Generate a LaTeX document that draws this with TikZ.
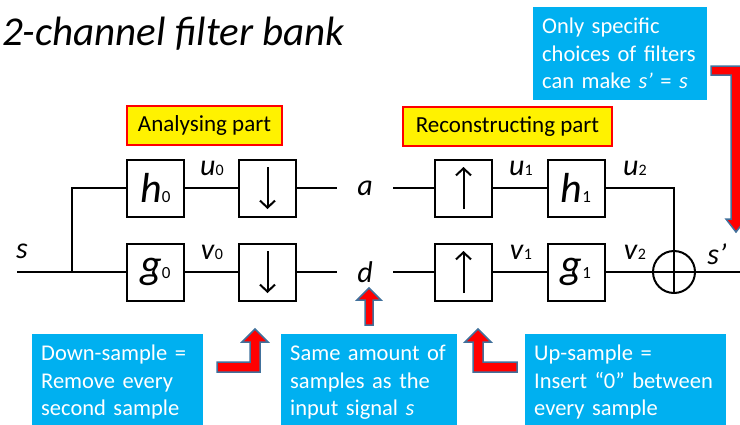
\documentclass[tikz,border=0pt]{standalone}
\usepackage{fontspec}
\setmainfont{Carlito}
\usetikzlibrary{arrows.meta}
\definecolor{note_blue}{HTML}{00B0F0}
\definecolor{arrow_edge}{HTML}{41719C}
\newcommand{\sig}[3][16]{\textit{#2}{\fontsize{#1}{#1}\selectfont #3}}

\begin{document}
\begin{tikzpicture}[x=1pt, y=-1pt]
        \tikzstyle{fb_block}  = [shape = rectangle, draw = black, line width = 2pt, minimum size = 57pt, inner sep = 0pt, font = \fontsize{42}{42}\selectfont]
        \tikzstyle{fb_down}   = [fb_block, path picture = {\draw[line width = 2pt, -{Straight Barb[length = 7pt, width = 15pt, line width = 2pt]}]
                                   ([yshift = 21pt] path picture bounding box.center) -- ([yshift = -21pt] path picture bounding box.center);}]
        \tikzstyle{fb_up}     = [fb_block, path picture = {\draw[line width = 2pt, -{Straight Barb[length = 7pt, width = 15pt, line width = 2pt]}]
                                   ([yshift = -21pt] path picture bounding box.center) -- ([yshift = 21pt] path picture bounding box.center);}]
        \tikzstyle{fb_sum}    = [shape = circle, draw = black, line width = 2pt, minimum size = 42pt, inner sep = 0pt,
                                 path picture = {\draw[line width = 2pt]
                                   (path picture bounding box.north) -- (path picture bounding box.south)
                                   (path picture bounding box.west) -- (path picture bounding box.east);}]
        \tikzstyle{fb_signal} = [inner sep = 0pt, font = \fontsize{30}{30}\selectfont]
        \tikzstyle{fb_point}  = [fb_signal, minimum width = 56pt]
        \tikzstyle{fb_part}   = [shape = rectangle, draw = red, fill = yellow, line width = 2pt, minimum height = 39pt, inner sep = 0pt, font = \fontsize{23}{23}\selectfont]
        \tikzstyle{fb_note}   = [fill = note_blue, text = white, anchor = north west, align = left, inner xsep = 9pt, inner ysep = 11pt, font = \fontsize{22.5}{27.5}\selectfont]
        \tikzstyle{fb_arrow}  = [fill = red, draw = arrow_edge, line width = 1.5pt]
        \tikzstyle{fb_line}   = [line width = 2pt]

        \useasboundingbox (0,0) rectangle (740,424);
        \clip (0,0) rectangle (740,424);

        \node[anchor = base west, inner sep = 0pt, font = \fontsize{41}{41}\selectfont\itshape] at (2,45) (title) {2-channel filter bank};

        \node[fb_part, minimum width = 155pt] at (204.5,125.5) (analysing) {Analysing part};
        \node[fb_part, minimum width = 209pt] at (507.5,126.5) (reconstructing) {Reconstructing part};

        \coordinate (s_in)  at (17,272);
        \coordinate (split) at (72,272);
        \coordinate (s_out) at (745,272);

        \node[fb_block] at (155.5,188) (h0) {\sig[17]{h}{0}};
        \node[fb_block] at (155.5,272) (g0) {\sig[17]{g}{0}};
        \node[fb_down] at (267.5,188) (down_u) {};
        \node[fb_down] at (267.5,272) (down_v) {};

        \node[fb_point] at (365,188) (a) {\textit{a}};
        \node[fb_point] at (365,272) (d) {\textit{d}};

        \node[fb_up] at (463.5,188) (up_a) {};
        \node[fb_up] at (463.5,272) (up_d) {};
        \node[fb_block] at (576,188) (h1) {\sig[17]{h}{1}};
        \node[fb_block] at (576,272) (g1) {\sig[17]{g}{1}};

        \node[fb_sum] at (674,272) (sum) {};

        \node[fb_signal] at (22,251) (s_label) {\textit{s}};
        \node[fb_signal] at (212,168) (u0) {\sig{u}{0}};
        \node[fb_signal] at (212,252) (v0) {\sig{v}{0}};
        \node[fb_signal] at (521,168) (u1) {\sig{u}{1}};
        \node[fb_signal] at (521,252) (v1) {\sig{v}{1}};
        \node[fb_signal] at (635,168) (u2) {\sig{u}{2}};
        \node[fb_signal] at (635,252) (v2) {\sig{v}{2}};
        \node[fb_signal] at (717,254) (s_prime) {\textit{s’}};

        \draw[fb_line]
          (s_in) -- (g0)
          (split) |- (h0)
          (h0) -- (down_u)
          (g0) -- (down_v)
          (down_u) -- (a)
          (down_v) -- (d)
          (a) -- (up_a)
          (d) -- (up_d)
          (up_a) -- (h1)
          (up_d) -- (g1)
          (h1) -| (sum)
          (g1) -- (sum)
          (sum) -- (s_out)
        ;

        \node[fb_note, text width = 156pt] at (533,7) (note_filters) {Only specific\\choices of filters\\can make \textit{s’} = \textit{s}};
        \node[fb_note, text width = 153pt] at (32,334) (note_down) {Down-sample =\\Remove every\\second sample};
        \node[fb_note, text width = 158pt] at (281,334) (note_same) {Same amount of\\samples as the\\input signal \textit{s}};
        \node[fb_note, text width = 183pt] at (525,334) (note_up) {Up-sample =\\Insert “0” between\\every sample};

        \draw[fb_arrow] (711,66) -- (741,66) -- (741,219) -- (746,219) -- (736,232) -- (726,219) -- (731,219) -- (731,75) -- (711,75) -- cycle;
        \draw[fb_arrow] (217,362) -- (250,362) -- (250,342) -- (242,342) -- (255,329) -- (268,342) -- (260,342) -- (260,372) -- (217,372) -- cycle;
        \draw[fb_arrow] (365,325) -- (365,300) -- (357,300) -- (369,288) -- (381,300) -- (373,300) -- (373,325) -- cycle;
        \draw[fb_arrow] (517,362) -- (483,362) -- (483,342) -- (491,342) -- (478,329) -- (465,342) -- (473,342) -- (473,372) -- (517,372) -- cycle;
\end{tikzpicture}
\end{document}
